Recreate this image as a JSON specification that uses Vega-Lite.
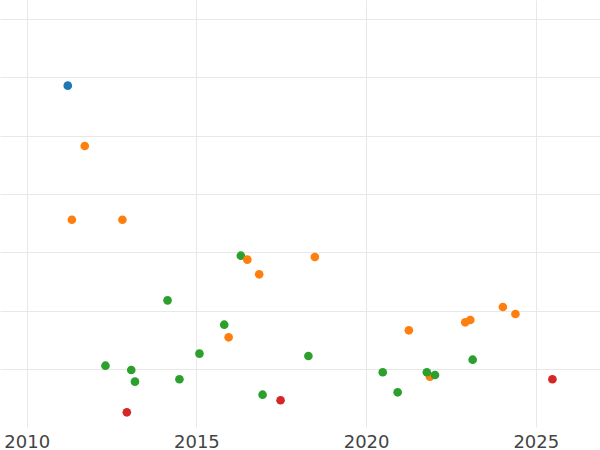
{
  "$schema": "https://vega.github.io/schema/vega-lite/v6.json",
  "width": 600,
  "height": 427,
  "padding": {"top": 0, "left": 0, "right": 0, "bottom": 23},
  "autosize": {"type": "none"},
  "background": "white",
  "data": {
    "values": [
      {"year": 2011.21, "value": 5.857, "group": "A"},
      {"year": 2011.71, "value": 4.823, "group": "B"},
      {"year": 2011.33, "value": 3.559, "group": "B"},
      {"year": 2012.82, "value": 3.559, "group": "B"},
      {"year": 2016.31, "value": 2.942, "group": "C"},
      {"year": 2016.50, "value": 2.874, "group": "B"},
      {"year": 2016.85, "value": 2.623, "group": "B"},
      {"year": 2014.15, "value": 2.177, "group": "C"},
      {"year": 2015.82, "value": 1.759, "group": "C"},
      {"year": 2015.95, "value": 1.543, "group": "B"},
      {"year": 2015.09, "value": 1.262, "group": "C"},
      {"year": 2012.32, "value": 1.056, "group": "C"},
      {"year": 2013.08, "value": 0.983, "group": "C"},
      {"year": 2013.19, "value": 0.782, "group": "C"},
      {"year": 2014.50, "value": 0.823, "group": "C"},
      {"year": 2012.95, "value": 0.257, "group": "D"},
      {"year": 2016.95, "value": 0.559, "group": "C"},
      {"year": 2017.48, "value": 0.463, "group": "D"},
      {"year": 2018.49, "value": 2.920, "group": "B"},
      {"year": 2018.30, "value": 1.223, "group": "C"},
      {"year": 2020.49, "value": 0.943, "group": "C"},
      {"year": 2020.93, "value": 0.600, "group": "C"},
      {"year": 2021.26, "value": 1.663, "group": "B"},
      {"year": 2021.88, "value": 0.868, "group": "B"},
      {"year": 2021.79, "value": 0.943, "group": "C"},
      {"year": 2022.03, "value": 0.897, "group": "C"},
      {"year": 2022.92, "value": 1.800, "group": "B"},
      {"year": 2023.07, "value": 1.840, "group": "B"},
      {"year": 2024.03, "value": 2.063, "group": "B"},
      {"year": 2024.40, "value": 1.943, "group": "B"},
      {"year": 2023.14, "value": 1.159, "group": "C"},
      {"year": 2025.49, "value": 0.823, "group": "D"}
    ]
  },
  "mark": {"type": "circle", "size": 75, "opacity": 1},
  "encoding": {
    "x": {
      "field": "year",
      "type": "quantitative",
      "scale": {"domain": [2009.213, 2026.892], "nice": false, "zero": false},
      "axis": {
        "title": null,
        "values": [2010, 2015, 2020, 2025],
        "format": "d",
        "grid": true,
        "gridColor": "#e8e8e8",
        "gridWidth": 1,
        "domain": false,
        "ticks": false,
        "labelFont": "DejaVu Sans",
        "labelFontSize": 18,
        "labelColor": "#444444",
        "labelPadding": 6,
        "labelFlush": false
      }
    },
    "y": {
      "field": "value",
      "type": "quantitative",
      "scale": {"domain": [0.005, 7.326], "nice": false, "zero": false},
      "axis": {
        "title": null,
        "values": [1, 2, 3, 4, 5, 6, 7],
        "grid": true,
        "gridColor": "#e8e8e8",
        "gridWidth": 1,
        "domain": false,
        "ticks": false,
        "labels": false
      }
    },
    "color": {
      "field": "group",
      "type": "nominal",
      "scale": {"domain": ["A", "B", "C", "D"], "range": ["#1f77b4", "#ff7f0e", "#2ca02c", "#d62728"]},
      "legend": null
    }
  },
  "config": {"view": {"stroke": null}}
}
